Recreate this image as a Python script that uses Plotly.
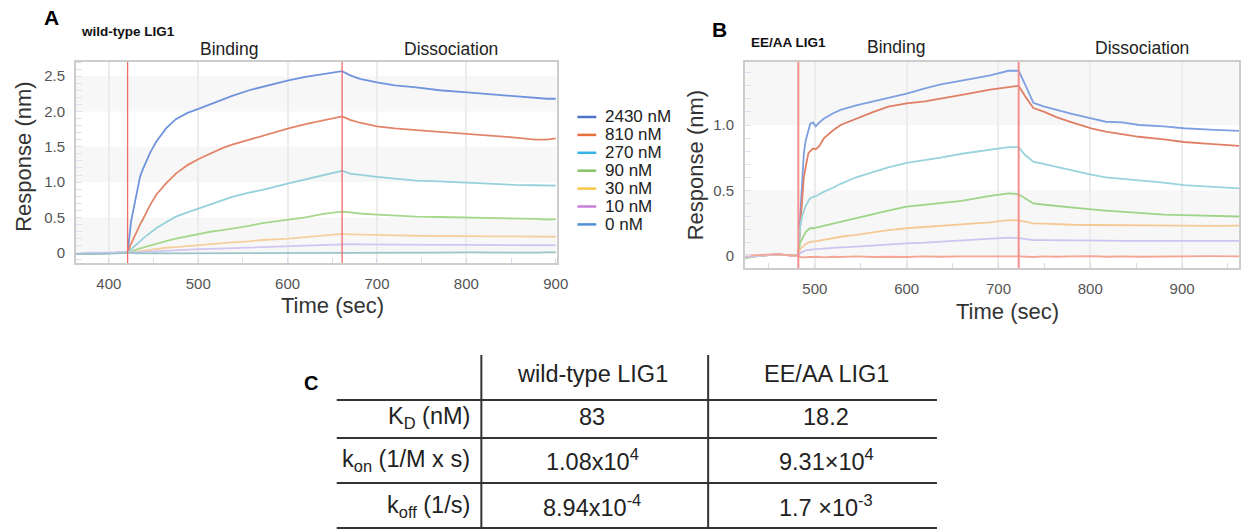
import plotly.graph_objects as go

W, H = 1252, 531

# ---------------- data ----------------
concentrations = ["2430 nM", "810 nM", "270 nM", "90 nM", "30 nM", "10 nM", "0 nM"]
legend_colors = ["#4f74c9", "#e8703f", "#33b5e8", "#86c466", "#f8c64a", "#c77ed8", "#4f8fd6"]
curve_colors_A = ["#6f93dd", "#e3856a", "#95d0dc", "#a6d88c", "#f6cf9e", "#d0c6f2", "#9cc4c8"]
curve_colors_B = ["#7e9fe0", "#e07f66", "#99d3dc", "#9dd487", "#f5c996", "#cfc4f0", "#f4a595"]

# Panel A: wild-type LIG1
tA = [363, 380, 400, 410, 421, 425, 431, 435, 438, 446, 453, 464, 475, 488, 501, 515, 527, 538,
      557, 572, 601, 620, 640, 661, 670, 681, 700, 720, 744, 770, 801, 830, 855, 877, 890, 900]
A_2430 = [-0.02, -0.02, -0.01, 0.0, 0.0, 0.45, 0.82, 1.08, 1.18, 1.41, 1.57, 1.76, 1.89, 1.98, 2.04, 2.11, 2.16, 2.22,
          2.30, 2.35, 2.44, 2.49, 2.53, 2.57, 2.51, 2.46, 2.41, 2.37, 2.34, 2.30, 2.27, 2.24, 2.22, 2.19, 2.18, 2.18]
A_810 = [-0.01, -0.01, 0.0, 0.0, 0.0, 0.13, 0.30, 0.40, 0.47, 0.67, 0.82, 0.98, 1.12, 1.24, 1.33, 1.41, 1.48, 1.53,
         1.60, 1.66, 1.76, 1.82, 1.87, 1.93, 1.88, 1.84, 1.79, 1.76, 1.735, 1.71, 1.68, 1.66, 1.63, 1.60, 1.60, 1.62]
A_270 = [-0.01, -0.01, 0.0, 0.0, 0.0, 0.05, 0.11, 0.16, 0.20, 0.28, 0.345, 0.43, 0.51, 0.57, 0.63, 0.69, 0.745, 0.79,
         0.85, 0.89, 0.98, 1.04, 1.10, 1.16, 1.12, 1.10, 1.075, 1.05, 1.02, 1.01, 0.99, 0.975, 0.96, 0.955, 0.95, 0.95]
A_90 = [-0.02, -0.01, -0.01, 0.0, 0.0, 0.02, 0.04, 0.06, 0.07, 0.10, 0.13, 0.165, 0.20, 0.235, 0.27, 0.30, 0.32, 0.34,
        0.38, 0.42, 0.47, 0.50, 0.55, 0.58, 0.57, 0.555, 0.54, 0.525, 0.51, 0.505, 0.50, 0.495, 0.49, 0.48, 0.47, 0.475]
A_30 = [-0.01, -0.01, 0.0, 0.0, 0.0, 0.005, 0.015, 0.02, 0.025, 0.04, 0.06, 0.07, 0.08, 0.095, 0.11, 0.125, 0.135, 0.145,
        0.16, 0.18, 0.20, 0.22, 0.24, 0.265, 0.26, 0.255, 0.25, 0.245, 0.24, 0.235, 0.235, 0.23, 0.23, 0.226, 0.226, 0.226]
A_10 = [-0.01, 0.0, 0.0, 0.0, 0.0, 0.0, 0.005, 0.008, 0.01, 0.015, 0.02, 0.03, 0.035, 0.04, 0.05, 0.055, 0.06, 0.065,
        0.075, 0.085, 0.095, 0.10, 0.11, 0.12, 0.12, 0.118, 0.115, 0.113, 0.112, 0.11, 0.11, 0.108, 0.107, 0.106, 0.105, 0.105]
A_0 = [-0.02, -0.02, -0.015, -0.01, 0.0, -0.005, -0.01, -0.005, -0.01, -0.01, -0.005, -0.01, -0.01, -0.005, -0.01, -0.005, 0.0, -0.005,
       -0.01, -0.005, -0.005, 0.0, -0.005, 0.0, 0.0, -0.005, 0.0, 0.0, -0.005, 0.0, 0.005, 0.0, -0.005, 0.0, 0.005, 0.005]

# Panel B: EE/AA LIG1
tB = [424, 440, 460, 475, 482, 484, 486, 488, 490, 493, 495, 498, 501, 505, 510, 520, 528, 545, 564, 580,
      600, 620, 637, 660, 691, 711, 722, 729, 738, 750, 763, 780, 801, 817, 835, 853, 880, 902, 930, 962]
B_2430 = [-0.01, 0.0, 0.01, 0.0, 0.0, 0.30, 0.55, 0.78, 0.88, 0.96, 1.01, 1.02, 0.99, 1.02, 1.05, 1.09, 1.115, 1.15, 1.18, 1.21,
          1.24, 1.28, 1.31, 1.34, 1.38, 1.415, 1.415, 1.31, 1.17, 1.14, 1.115, 1.085, 1.05, 1.025, 1.02, 1.00, 0.99, 0.975, 0.965, 0.955]
B_810 = [-0.01, 0.0, 0.01, 0.0, 0.0, 0.22, 0.45, 0.60, 0.68, 0.785, 0.80, 0.82, 0.815, 0.84, 0.90, 0.96, 1.0, 1.05, 1.10, 1.14,
         1.165, 1.18, 1.20, 1.23, 1.27, 1.29, 1.30, 1.22, 1.13, 1.10, 1.06, 1.02, 0.975, 0.95, 0.93, 0.91, 0.89, 0.87, 0.855, 0.84]
B_270 = [-0.01, 0.0, 0.01, 0.0, 0.0, 0.22, 0.30, 0.34, 0.38, 0.42, 0.44, 0.45, 0.455, 0.47, 0.49, 0.52, 0.55, 0.60, 0.64, 0.675,
         0.71, 0.73, 0.75, 0.78, 0.81, 0.83, 0.83, 0.77, 0.72, 0.70, 0.68, 0.65, 0.62, 0.60, 0.59, 0.58, 0.56, 0.54, 0.53, 0.515]
B_90 = [-0.02, 0.0, 0.01, 0.0, 0.0, 0.10, 0.13, 0.16, 0.18, 0.20, 0.21, 0.21, 0.215, 0.22, 0.23, 0.245, 0.26, 0.29, 0.32, 0.345,
        0.375, 0.39, 0.405, 0.42, 0.457, 0.477, 0.47, 0.44, 0.40, 0.39, 0.38, 0.37, 0.355, 0.345, 0.335, 0.325, 0.315, 0.31, 0.305, 0.30]
B_30 = [-0.01, 0.0, 0.01, 0.0, 0.0, 0.05, 0.065, 0.08, 0.09, 0.10, 0.105, 0.11, 0.11, 0.115, 0.12, 0.13, 0.145, 0.16, 0.18, 0.195,
        0.21, 0.22, 0.23, 0.24, 0.255, 0.273, 0.27, 0.26, 0.248, 0.245, 0.24, 0.237, 0.235, 0.235, 0.233, 0.232, 0.23, 0.23, 0.228, 0.23]
B_10 = [-0.01, 0.0, 0.01, 0.0, 0.0, 0.02, 0.03, 0.035, 0.04, 0.044, 0.046, 0.05, 0.05, 0.052, 0.055, 0.06, 0.064, 0.07, 0.08, 0.088,
        0.095, 0.10, 0.107, 0.115, 0.128, 0.138, 0.135, 0.128, 0.12, 0.12, 0.118, 0.117, 0.115, 0.115, 0.114, 0.114, 0.113, 0.113, 0.113, 0.113]
B_0 = [0.0, 0.005, 0.012, 0.0, 0.0, -0.01, -0.012, -0.01, -0.012, -0.01, -0.012, -0.01, -0.008, -0.01, -0.012, -0.008, -0.01, -0.005, -0.01, -0.008,
       -0.01, -0.005, -0.008, -0.005, -0.008, -0.005, -0.005, -0.008, -0.01, -0.005, -0.008, -0.005, -0.003, -0.008, -0.005, -0.008, -0.005, -0.005, -0.003, -0.005]

series_A = [A_2430, A_810, A_270, A_90, A_30, A_10, A_0]
series_B = [B_2430, B_810, B_270, B_90, B_30, B_10, B_0]

phase_A = [421, 661]
phase_B = [482, 722]
phase_names = ["Binding", "Dissociation"]

yticks_A = [0, 0.5, 1.0, 1.5, 2.0, 2.5]
yticklabels_A = ["0", "0.5", "1.0", "1.5", "2.0", "2.5"]
yticks_B = [0, 0.5, 1.0]
yticklabels_B = ["0", "0.5", "1.0"]
xticks_A = [400, 500, 600, 700, 800, 900]
xticks_B = [500, 600, 700, 800, 900]

# Panel C table
table_cols = ["wild-type LIG1", "EE/AA LIG1"]
table_rows = ["K<sub>D</sub> (nM)", "k<sub>on</sub> (1/M x s)", "k<sub>off</sub> (1/s)"]
wt_values = ["83", "1.08x10<sup>4</sup>", "8.94x10<sup>-4</sup>"]
ee_values = ["18.2", "9.31×10<sup>4</sup>", "1.7 ×10<sup>-3</sup>"]

# ---------------- helpers ----------------
def px(x):
    return x / W

def py(y):
    return 1 - y / H

FONT = "Liberation Sans, Arial, sans-serif"

fig = go.Figure()

for name, ys, col in zip(concentrations, series_A, curve_colors_A):
    fig.add_trace(go.Scatter(x=tA, y=ys, mode="lines", name=name, showlegend=False,
                             line=dict(color=col, width=1.8), xaxis="x", yaxis="y"))
for name, ys, col in zip(concentrations, series_B, curve_colors_B):
    fig.add_trace(go.Scatter(x=tB, y=ys, mode="lines", name=name, showlegend=False,
                             line=dict(color=col, width=1.8), xaxis="x2", yaxis="y2"))

shapes = []
annotations = []

# shaded horizontal bands (every other tick interval)
def bands(ticks, top, xref, yref):
    edges = list(ticks) + [top]
    for i in range(0, len(edges) - 1, 2):
        shapes.append(dict(type="rect", xref=xref, yref=yref, x0=0, x1=1,
                           y0=edges[i], y1=edges[i + 1], fillcolor="#f7f7f7",
                           line=dict(width=0), layer="below"))

bands(yticks_A, 2.70, "x domain", "y")
bands(yticks_B, 1.49, "x2 domain", "y2")

# phase boundary lines
for t in phase_A:
    shapes.append(dict(type="line", xref="x", yref="y domain", x0=t, x1=t, y0=0, y1=1,
                       line=dict(color="#f06a6a", width=1.3)))
for t in phase_B:
    shapes.append(dict(type="line", xref="x2", yref="y2 domain", x0=t, x1=t, y0=0, y1=1,
                       line=dict(color="#f58f8f", width=2)))

def text(x, y, s, size, bold=False, anchor="center", angle=0, color="#222", family=FONT):
    annotations.append(dict(x=px(x), y=py(y), xref="paper", yref="paper", text=(f"<b>{s}</b>" if bold else s),
                            showarrow=False, xanchor=anchor, yanchor="middle", textangle=angle,
                            font=dict(size=size, color=color, family=family)))

# panel labels / titles
text(52, 17, "A", 21, bold=True, color="#000")
text(129, 32, "wild-type LIG1", 13.5, bold=True, color="#111")
text(231, 49, phase_names[0], 17.5)
text(455, 49, phase_names[1], 17.5)
text(726, 29, "B", 21, bold=True, color="#000")
text(796, 43, "EE/AA LIG1", 13.5, bold=True, color="#111")
text(905, 47, phase_names[0], 17.5)
text(1153, 48, phase_names[1], 17.5)
text(314, 383, "C", 20, bold=True, color="#000")

# axis titles
text(23, 157, "Response (nm)", 22, angle=-90, color="#333")
text(336, 305, "Time (sec)", 22, color="#333")
text(702, 165, "Response (nm)", 22, angle=-90, color="#333")
text(1017, 311, "Time (sec)", 22, color="#333")

# manual legend
for i, (name, col) in enumerate(zip(concentrations, legend_colors)):
    yy = 117 + i * 17.9
    shapes.append(dict(type="line", xref="paper", yref="paper", x0=px(583), x1=px(602),
                       y0=py(yy), y1=py(yy), line=dict(color=col, width=2.5)))
    text(609, yy, name, 17, anchor="left", color="#222")

# table
line_ys = [400, 438, 483, 528]
for y in line_ys:
    shapes.append(dict(type="line", xref="paper", yref="paper", x0=px(340), x1=px(946),
                       y0=py(y), y1=py(y), line=dict(color="#333", width=2)))
for x in [486, 715]:
    shapes.append(dict(type="line", xref="paper", yref="paper", x0=px(x), x1=px(x),
                       y0=py(355), y1=py(528), line=dict(color="#333", width=2)))
col_x = [598, 834]
for cx, c in zip(col_x, table_cols):
    text(cx, 374, c, 23.5)
row_y = [417, 460, 506]
for ry, lab, a, b in zip(row_y, table_rows, wt_values, ee_values):
    text(477, ry, lab, 23.5, anchor="right")
    text(col_x[0], ry, a, 23.5)
    text(col_x[1], ry, b, 23.5)

axis_common = dict(showline=True, mirror=True, linecolor="#cdcdcd", linewidth=1.5, zeroline=False,
                   tickfont=dict(size=15, color="#555", family=FONT), ticks="")

fig.update_layout(
    width=W, height=H, margin=dict(l=0, r=0, t=0, b=0),
    paper_bgcolor="white", plot_bgcolor="white", showlegend=False,
    font=dict(family=FONT),
    xaxis=dict(domain=[px(76.5), px(562)], range=[363, 901], anchor="y",
               tickvals=xticks_A, showgrid=True, gridcolor="#ececec", gridwidth=1.5,
               ticklabelstandoff=6,
               minor=dict(dtick=50, ticks="inside", ticklen=5, tickcolor="#d6dbee", showgrid=False),
               **axis_common),
    yaxis=dict(domain=[py(263), py(62)], range=[-0.146, 2.70], anchor="x",
               tickvals=yticks_A, ticktext=yticklabels_A, showgrid=False, ticklabelstandoff=6,
               minor=dict(dtick=0.1, ticks="inside", ticklen=6, tickcolor="#dde1f0", showgrid=False),
               **axis_common),
    xaxis2=dict(domain=[px(752), px(1251)], range=[423.7, 962], anchor="y2",
                tickvals=xticks_B, showgrid=True, gridcolor="#ececec", gridwidth=1.5,
                ticklabelstandoff=6,
                minor=dict(dtick=50, ticks="inside", ticklen=5, tickcolor="#d6dbee", showgrid=False),
                **axis_common),
    yaxis2=dict(domain=[py(268), py(62)], range=[-0.094, 1.482], anchor="x2",
                tickvals=yticks_B, ticktext=yticklabels_B, showgrid=False, ticklabelstandoff=6,
                minor=dict(dtick=0.1, ticks="inside", ticklen=6, tickcolor="#dde1f0", showgrid=False),
                **axis_common),
    shapes=shapes, annotations=annotations,
)

fig.write_html("out.html", config={"displayModeBar": False},
               post_script="document.body.style.margin='0';")
